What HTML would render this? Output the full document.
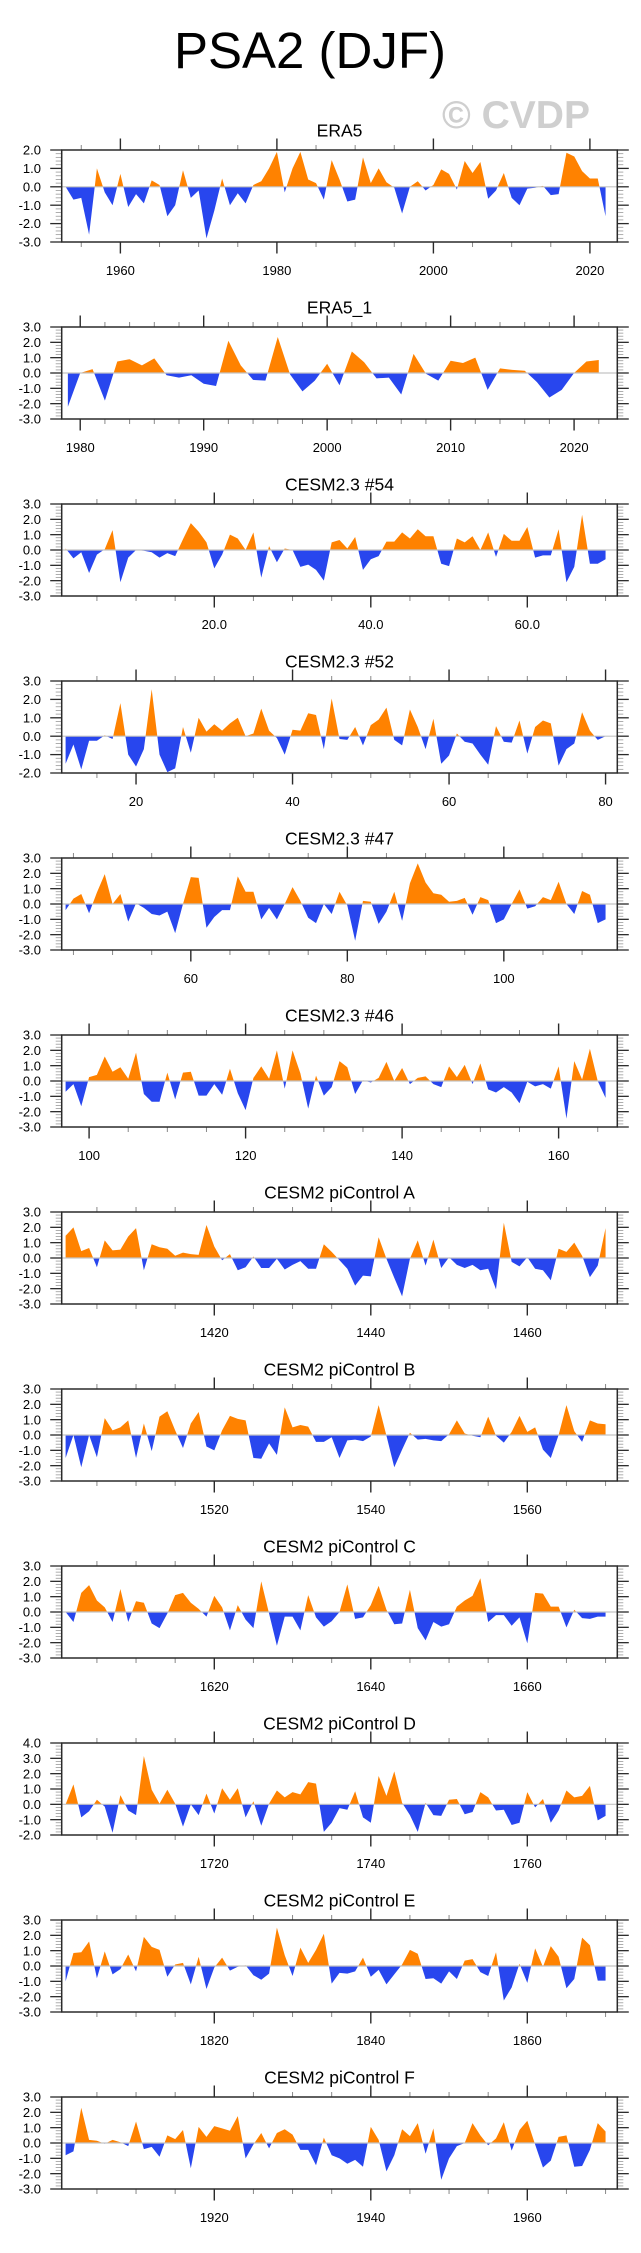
<!DOCTYPE html>
<html><head><meta charset="utf-8">
<style>
html,body{margin:0;padding:0;background:#fff;}
svg{display:block;font-family:"Liberation Sans",Arial,sans-serif;}
</style></head>
<body>
<svg id="chart" width="641" height="2253" viewBox="0 0 641 2253" xmlns="http://www.w3.org/2000/svg">
<text x="310" y="68" font-size="51" text-anchor="middle" fill="#000">PSA2 (DJF)</text>
<text x="516" y="128" font-size="39" font-weight="bold" text-anchor="middle" fill="#cfcfcf">© CVDP</text>
</svg>
<script>
const panelTitles = ["ERA5","ERA5_1","CESM2.3 #54","CESM2.3 #52","CESM2.3 #47","CESM2.3 #46","CESM2 piControl A","CESM2 piControl B","CESM2 piControl C","CESM2 piControl D","CESM2 piControl E","CESM2 piControl F"];
const startYears = [1953,1979,1,11,44,97,1401,1501,1601,1701,1801,1901];
const yMaxes = [2,3,3,3,3,3,3,3,3,4,3,3];
const yMins = [-3,-3,-3,-2,-3,-3,-3,-3,-3,-2,-3,-3];
const majorSteps = [20,10,20,20,20,20,20,20,20,20,20,20];
const minorSteps = [5,2,5,5,5,5,5,5,5,5,5,5];
const labelDecimals = [0,0,1,0,0,0,0,0,0,0,0,0];

const era5Values = [0.0,-0.7,-0.6,-2.6,1.0,-0.3,-1.0,0.7,-1.1,-0.4,-0.9,0.35,0.1,-1.6,-1.0,0.9,-0.6,-0.2,-2.8,-1.3,0.45,-1.0,-0.35,-0.9,0.1,0.3,1.0,1.9,-0.3,1.0,1.9,0.4,0.2,-0.7,1.45,0.4,-0.8,-0.7,1.6,0.2,1.0,0.25,-0.05,-1.45,0.0,0.3,-0.2,0.1,0.95,0.7,-0.15,1.4,0.75,1.35,-0.65,-0.2,0.75,-0.6,-1.0,-0.1,-0.05,0.05,-0.45,-0.4,1.85,1.65,0.85,0.45,0.45,-1.6];
const era5bValues = [-2.2,0.0,0.25,-1.8,0.75,0.9,0.5,0.95,-0.15,-0.3,-0.15,-0.7,-0.85,2.1,0.5,-0.45,-0.5,2.35,-0.1,-1.2,-0.5,0.6,-0.8,1.4,0.7,-0.35,-0.3,-1.4,1.25,-0.05,-0.5,0.8,0.65,1.0,-1.1,0.3,0.2,0.15,-0.6,-1.6,-1.1,0.0,0.75,0.85];
const run54Values = [0.1,-0.55,-0.15,-1.5,-0.3,0.05,1.3,-2.1,-0.5,0.0,-0.05,-0.15,-0.5,-0.2,-0.4,0.7,1.75,1.2,0.5,-1.2,-0.3,1.0,0.75,0.0,1.15,-1.8,0.25,-0.8,0.1,0.0,-1.1,-0.95,-1.3,-2.0,0.5,0.65,0.1,0.85,-1.3,-0.6,-0.4,0.55,0.55,1.15,0.75,1.35,0.9,0.9,-0.9,-1.05,0.75,0.5,0.9,0.0,1.15,-0.45,1.05,0.6,0.6,1.5,-0.5,-0.35,-0.35,1.35,-2.1,-1.1,2.3,-0.9,-0.9,-0.6];
const run52Values = [-1.5,-0.45,-1.8,-0.25,-0.25,0.05,-0.15,1.8,-1.0,-1.65,-0.7,2.55,-1.0,-1.95,-1.75,0.5,-0.9,1.0,0.25,0.65,0.3,0.7,1.0,0.0,0.15,1.5,0.3,-0.1,-1.0,0.35,0.3,1.25,1.15,-0.7,2.05,-0.15,-0.2,0.5,-0.5,0.6,0.9,1.55,-0.2,-0.5,1.45,0.5,-0.7,0.95,-1.5,-1.05,0.15,-0.3,-0.4,-1.0,-1.55,0.55,-0.3,-0.35,0.85,-0.95,0.5,0.85,0.7,-1.6,-0.7,-0.4,1.3,0.3,-0.2,0.0];
const run47Values = [-0.4,0.35,0.65,-0.6,0.75,1.95,0.0,0.65,-1.15,0.05,-0.25,-0.65,-0.75,-0.5,-1.9,0.0,1.75,1.7,-1.55,-0.85,-0.4,-0.4,1.8,0.8,0.8,-1.0,-0.25,-1.0,0.0,1.1,0.2,-0.9,-1.25,0.0,-0.65,0.8,-0.1,-2.4,0.2,0.15,-1.3,-0.5,0.8,-1.1,1.35,2.65,1.4,0.7,0.6,0.15,0.2,0.4,-0.7,0.45,0.25,-1.25,-1.0,0.0,0.95,-0.3,-0.15,0.45,0.25,1.45,0.0,-0.65,0.85,0.6,-1.25,-1.0];
const run46Values = [-0.7,-0.2,-1.65,0.25,0.4,1.6,0.6,0.9,0.15,1.85,-0.85,-1.35,-1.35,0.55,-1.2,0.55,0.6,-0.95,-0.95,-0.2,-0.9,0.8,-0.8,-1.9,0.2,0.95,0.15,2.0,-0.5,2.0,0.5,-1.8,0.35,-0.95,-0.4,1.3,0.9,-0.85,0.05,-0.1,0.2,1.25,0.0,0.85,-0.2,0.2,0.3,-0.2,-0.4,0.95,0.25,1.05,-0.2,1.15,-0.55,-0.75,-0.4,-0.75,-1.45,-0.05,-0.35,-0.2,-0.5,0.95,-2.45,1.3,0.1,2.1,0.0,-1.1];
const piAValues = [1.45,2.0,0.45,0.65,-0.6,1.15,0.5,0.55,1.4,1.95,-0.8,0.9,0.7,0.6,0.15,0.35,0.25,0.2,2.15,0.75,-0.15,0.25,-0.8,-0.6,0.1,-0.65,-0.65,-0.05,-0.75,-0.45,-0.2,-0.7,-0.7,0.9,0.4,-0.15,-0.7,-1.8,-1.15,-1.2,1.35,-0.05,-1.3,-2.5,-0.05,1.15,-0.5,1.2,-0.65,0.05,-0.45,-0.65,-0.45,-0.8,-0.7,-2.05,2.3,-0.25,-0.55,0.05,-0.7,-0.8,-1.45,0.6,0.4,1.0,0.15,-1.25,-0.5,1.95];
const piBValues = [-1.5,0.0,-2.1,0.0,-1.45,1.1,0.3,0.5,0.95,-1.5,0.75,-1.05,1.2,1.55,0.3,-0.85,0.75,1.5,-0.75,-1.0,0.3,1.25,1.05,0.95,-1.5,-1.55,-0.55,-1.3,1.8,0.5,0.65,0.55,-0.45,-0.45,-0.15,-1.5,-0.35,-0.3,-0.4,-0.1,1.95,-0.05,-2.1,-0.95,0.15,-0.3,-0.25,-0.35,-0.4,0.05,0.95,0.1,-0.05,-0.15,1.2,-0.05,-0.5,0.2,1.25,0.2,0.5,-0.95,-1.5,0.0,1.95,0.25,-0.45,0.95,0.75,0.7];
const piCValues = [0.0,-0.65,1.25,1.75,0.75,0.3,-0.65,1.5,-0.65,0.7,0.6,-0.75,-1.05,-0.1,1.1,1.25,0.6,0.2,-0.3,1.05,0.3,-1.2,0.45,-0.5,-1.05,2.0,-0.1,-2.2,-0.3,-0.3,-1.2,1.1,-0.35,-0.95,-0.6,0.0,1.8,-0.45,-0.35,0.45,1.7,0.15,-0.8,-0.75,1.45,-1.05,-1.85,-0.65,-0.95,-0.8,0.35,0.75,1.05,2.2,-0.65,-0.2,-0.2,-0.9,-0.35,-2.05,1.25,1.2,0.35,0.35,-1.0,0.15,-0.4,-0.45,-0.3,-0.3];
const piDValues = [0.0,1.3,-0.85,-0.45,0.3,-0.15,-1.85,0.6,-0.4,-0.7,3.15,0.95,0.05,0.95,0.05,-1.45,0.0,-0.7,0.7,-0.6,1.05,0.3,1.05,-0.85,0.2,-1.4,0.05,0.9,0.45,0.8,0.65,1.45,1.35,-1.8,-1.2,-0.25,-0.35,0.85,-0.85,-1.2,1.85,0.55,2.15,0.1,-0.7,-1.8,0.1,-0.7,-0.75,0.3,0.35,-0.65,-0.5,0.8,0.45,-0.4,-0.35,-1.35,-1.2,0.8,-0.2,0.35,-1.2,-0.4,0.9,0.45,0.55,1.2,-1.05,-0.75];
const piEValues = [-1.0,0.85,0.9,1.6,-0.8,0.95,-0.55,-0.2,0.75,-0.35,1.9,1.25,1.05,-0.7,0.1,0.2,-1.2,0.6,-1.5,-0.1,0.55,-0.3,-0.05,0.05,-0.6,-0.9,-0.5,2.5,0.7,-0.65,1.2,0.2,1.05,2.1,-1.15,-0.45,-0.5,-0.35,0.55,-0.7,-0.25,-1.2,-0.55,0.1,1.05,0.8,-0.85,-0.8,-1.15,-0.35,-0.85,0.35,0.45,-0.4,-0.65,0.9,-2.25,-1.4,0.15,-1.1,1.15,-0.05,1.3,0.6,-1.45,-0.85,1.85,1.35,-0.95,-0.95];
const piFValues = [-0.8,-0.55,2.3,0.2,0.15,-0.05,0.2,0.05,-0.2,1.4,-0.4,-0.25,-0.9,0.5,0.25,0.85,-1.65,1.05,0.4,1.1,0.95,0.8,1.75,-1.0,-0.1,0.65,-0.35,0.65,0.9,0.55,-0.45,-0.45,-1.45,0.35,-0.8,-1.0,-1.35,-1.1,-1.55,1.05,0.2,-1.85,-0.8,0.9,0.45,1.3,-0.7,0.95,-2.4,-1.0,-0.2,0.0,1.3,0.5,-0.15,0.3,1.35,-0.5,0.85,1.45,-0.1,-1.6,-1.15,0.4,0.5,-1.55,-1.5,-0.45,1.3,0.75];

const seriesList = [era5Values,era5bValues,run54Values,run52Values,run47Values,run46Values,piAValues,piBValues,piCValues,piDValues,piEValues,piFValues];

const NS = "http://www.w3.org/2000/svg";
const svg = document.getElementById("chart");
const PL = 61.7, PR = 617.3, PH = 92, TOP0 = 150, GAP = 177;
const ORANGE = "#ff8200", BLUE = "#2846ee", FRAME = "#2a2a2a";

function mk(tag, attrs, parent) {
  const e = document.createElementNS(NS, tag);
  for (const k in attrs) e.setAttribute(k, attrs[k]);
  (parent || svg).appendChild(e);
  return e;
}

for (let p = 0; p < seriesList.length; p++) {
  const vals = seriesList[p];
  const x0 = startYears[p] - 0.5, x1 = startYears[p] + vals.length - 1 + 1.5;
  const top = TOP0 + GAP * p, bot = top + PH;
  const ymax = yMaxes[p], ymin = yMins[p];
  const xs = v => PL + (v - x0) / (x1 - x0) * (PR - PL);
  const ys = v => top + (ymax - v) / (ymax - ymin) * PH;

  const g = mk("g", {});
  
  

  const title = mk("text", {x: (PL + PR) / 2, y: top - 13.5, "font-size": 17.5, "text-anchor": "middle", fill: "#000"}, g);
  
  
  title.textContent = panelTitles[p];

  // build points with zero crossings
  const pts = [];
  for (let i = 0; i < vals.length; i++) {
    const t = startYears[p] + i, v = vals[i];
    if (i > 0) {
      const pv = vals[i - 1];
      if ((pv > 0 && v < 0) || (pv < 0 && v > 0)) {
        const f = pv / (pv - v);
        pts.push([t - 1 + f, 0]);
      }
    }
    pts.push([t, v]);
  }
  const first = pts[0][0], last = pts[pts.length - 1][0];
  function areaPath(fn) {
    let d = "M" + xs(first).toFixed(2) + "," + ys(0).toFixed(2);
    for (const q of pts) d += "L" + xs(q[0]).toFixed(2) + "," + ys(fn(q[1])).toFixed(2);
    d += "L" + xs(last).toFixed(2) + "," + ys(0).toFixed(2) + "Z";
    return d;
  }
  const pos = mk("path", {d: areaPath(v => Math.max(v, 0)), fill: ORANGE}, g);
  
  
  const neg = mk("path", {d: areaPath(v => Math.min(v, 0)), fill: BLUE}, g);
  
  

  const zl = mk("line", {x1: PL, x2: PR, y1: ys(0), y2: ys(0), stroke: "#c4c4c4", "stroke-width": 1.2}, g);
  
  

  // y ticks and labels
  for (let k = Math.round(ymin * 5); k <= Math.round(ymax * 5); k++) {
    const v = k / 5, y = ys(v), major = (k % 5 === 0);
    const len = major ? 11.5 : 6;
    mk("line", {x1: PL - len, x2: PL, y1: y, y2: y, stroke: major ? FRAME : "#999", "stroke-width": major ? 1.3 : 0.8}, g);
    mk("line", {x1: PR, x2: PR + len, y1: y, y2: y, stroke: major ? FRAME : "#999", "stroke-width": major ? 1.3 : 0.8}, g);
    if (major) {
      const lab = mk("text", {x: 41, y: y + 4.6, "font-size": 13, "text-anchor": "end", fill: "#000"}, g);
      
      
      lab.textContent = v.toFixed(1);
    }
  }
  // x ticks
  const ms = minorSteps[p];
  for (let t = Math.ceil(x0 / ms) * ms; t <= x1; t += ms) {
    const x = xs(t), major = (t % majorSteps[p] === 0);
    const len = major ? 11.5 : 5;
    mk("line", {x1: x, x2: x, y1: bot, y2: bot + len, stroke: major ? FRAME : "#888", "stroke-width": major ? 1.4 : 1}, g);
    mk("line", {x1: x, x2: x, y1: top - len, y2: top, stroke: major ? FRAME : "#888", "stroke-width": major ? 1.4 : 1}, g);
    if (major) {
      const lab = mk("text", {x: x, y: bot + 33, "font-size": 13, "text-anchor": "middle", fill: "#000"}, g);
      
      
      lab.textContent = t.toFixed(labelDecimals[p]);
    }
  }
  const fr = mk("rect", {x: PL, y: top, width: PR - PL, height: PH, fill: "none", stroke: FRAME, "stroke-width": 1.5}, g);
  
  
}
</script>
</body></html>
